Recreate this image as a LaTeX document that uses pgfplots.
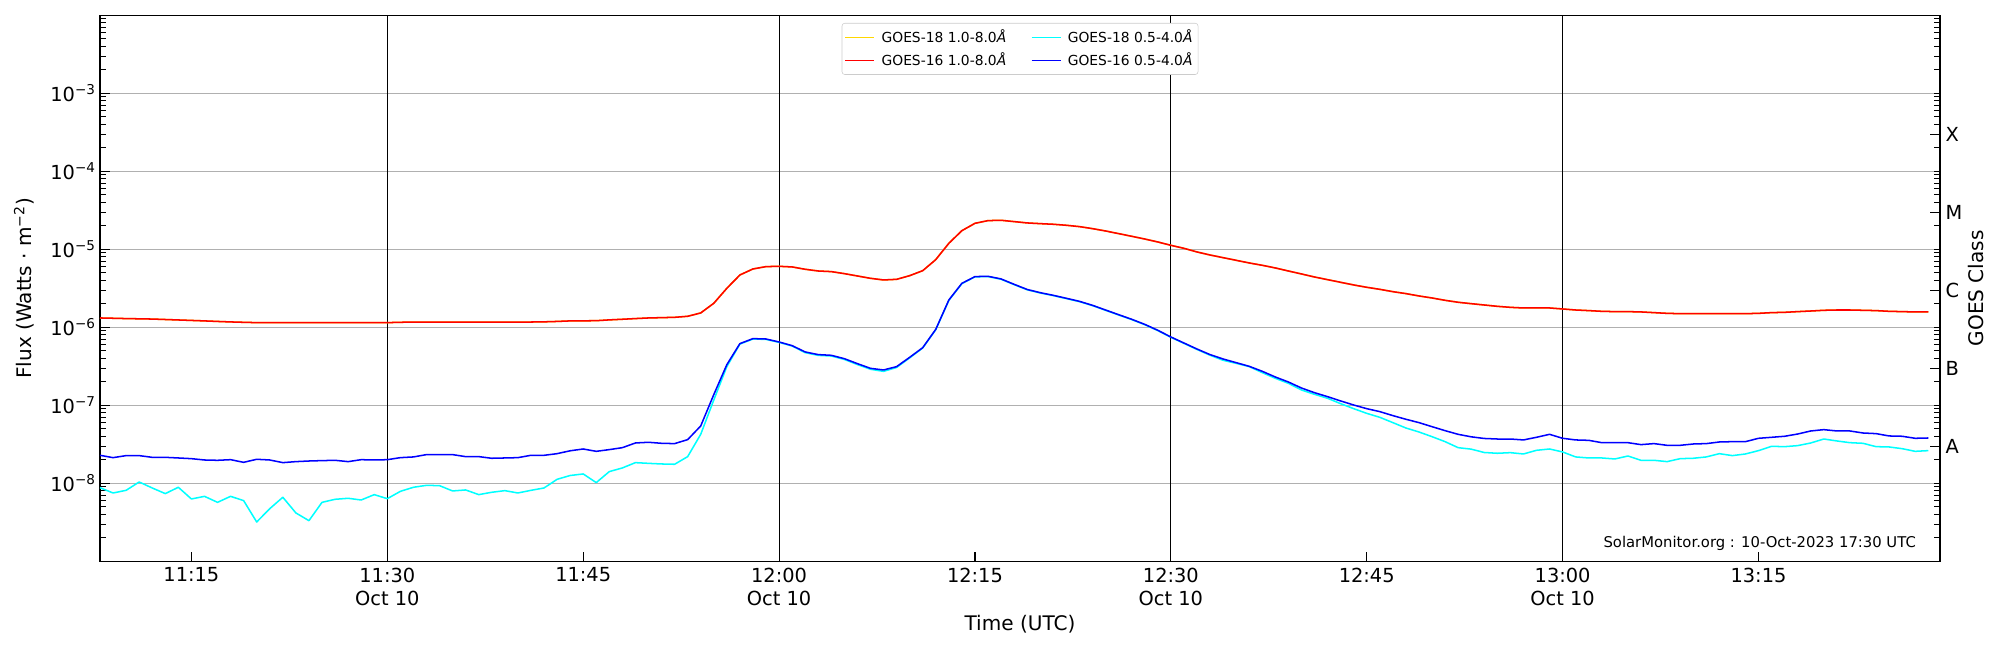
\documentclass[border=0pt]{standalone}
\usepackage{fontspec}
\setmainfont{DejaVu Sans}
\usepackage{pgfplots}
\usepackage{pgfplotstable}
\pgfplotsset{compat=1.18}
\definecolor{g18long}{HTML}{FFD700}
\definecolor{g16long}{HTML}{FF0000}
\definecolor{g18short}{HTML}{00FFFF}
\definecolor{g16short}{HTML}{0000FF}
\newcommand{\ticksize}{\fontsize{14}{16.6}\selectfont}
\newcommand{\labelsize}{\fontsize{14.5}{17}\selectfont}
\newcommand{\sx}[1]{10\textsuperscript{−#1}}

% GOES-16 1.0-8.0 A (minutes after 11:00 UT, W m^-2)
\pgfplotstableread[row sep=\\]{
m f \\
8 1.318e-6 \\ 9 1.306e-6 \\ 10 1.294e-6 \\ 11 1.285e-6 \\ 12 1.276e-6 \\ 13 1.259e-6 \\
14 1.242e-6 \\ 15 1.225e-6 \\ 16 1.208e-6 \\ 17 1.189e-6 \\ 18 1.172e-6 \\ 19 1.159e-6 \\
20 1.148e-6 \\ 21 1.148e-6 \\ 22 1.148e-6 \\ 23 1.148e-6 \\ 24 1.148e-6 \\ 25 1.148e-6 \\
26 1.148e-6 \\ 27 1.148e-6 \\ 28 1.148e-6 \\ 29 1.148e-6 \\ 30 1.148e-6 \\ 31 1.159e-6 \\
32 1.169e-6 \\ 33 1.169e-6 \\ 34 1.169e-6 \\ 35 1.169e-6 \\ 36 1.169e-6 \\ 37 1.169e-6 \\
38 1.169e-6 \\ 39 1.169e-6 \\ 40 1.169e-6 \\ 41 1.169e-6 \\ 42 1.175e-6 \\ 43 1.189e-6 \\
44 1.208e-6 \\ 45 1.211e-6 \\ 46 1.216e-6 \\ 47 1.245e-6 \\ 48 1.268e-6 \\ 49 1.294e-6 \\
50 1.318e-6 \\ 51 1.330e-6 \\ 52 1.343e-6 \\ 53 1.384e-6 \\ 54 1.528e-6 \\ 55 2.032e-6 \\
56 3.162e-6 \\ 57 4.688e-6 \\ 58 5.598e-6 \\ 59 5.998e-6 \\ 60 6.053e-6 \\ 61 5.943e-6 \\
62 5.546e-6 \\ 63 5.272e-6 \\ 64 5.176e-6 \\ 65 4.875e-6 \\ 66 4.550e-6 \\ 67 4.246e-6 \\
68 4.046e-6 \\ 69 4.121e-6 \\ 70 4.592e-6 \\ 71 5.321e-6 \\ 72 7.379e-6 \\ 73 1.194e-5 \\
74 1.734e-5 \\ 75 2.153e-5 \\ 76 2.333e-5 \\ 77 2.355e-5 \\ 78 2.265e-5 \\ 79 2.178e-5 \\
80 2.133e-5 \\ 81 2.094e-5 \\ 82 2.032e-5 \\ 83 1.954e-5 \\ 84 1.841e-5 \\ 85 1.718e-5 \\
86 1.589e-5 \\ 87 1.469e-5 \\ 88 1.355e-5 \\ 89 1.242e-5 \\ 90 1.125e-5 \\ 91 1.030e-5 \\
92 9.247e-6 \\ 93 8.453e-6 \\ 94 7.816e-6 \\ 95 7.228e-6 \\ 96 6.683e-6 \\ 97 6.237e-6 \\
98 5.768e-6 \\ 99 5.272e-6 \\ 100 4.831e-6 \\ 101 4.416e-6 \\ 102 4.083e-6 \\ 103 3.776e-6 \\
104 3.491e-6 \\ 105 3.258e-6 \\ 106 3.069e-6 \\ 107 2.864e-6 \\ 108 2.704e-6 \\ 109 2.523e-6 \\
110 2.377e-6 \\ 111 2.218e-6 \\ 112 2.094e-6 \\ 113 2.009e-6 \\ 114 1.932e-6 \\ 115 1.858e-6 \\
116 1.803e-6 \\ 117 1.770e-6 \\ 118 1.770e-6 \\ 119 1.770e-6 \\ 120 1.718e-6 \\ 121 1.667e-6 \\
122 1.637e-6 \\ 123 1.603e-6 \\ 124 1.589e-6 \\ 125 1.589e-6 \\ 126 1.574e-6 \\ 127 1.542e-6 \\
128 1.510e-6 \\ 129 1.496e-6 \\ 130 1.496e-6 \\ 131 1.496e-6 \\ 132 1.496e-6 \\ 133 1.496e-6 \\
134 1.496e-6 \\ 135 1.510e-6 \\ 136 1.542e-6 \\ 137 1.556e-6 \\ 138 1.589e-6 \\ 139 1.618e-6 \\
140 1.652e-6 \\ 141 1.667e-6 \\ 142 1.667e-6 \\ 143 1.652e-6 \\ 144 1.637e-6 \\ 145 1.603e-6 \\
146 1.589e-6 \\ 147 1.574e-6 \\ 148 1.574e-6 \\
}\longtab

% GOES-16 0.5-4.0 A
\pgfplotstableread[row sep=\\]{
m f \\
8 2.286e-8 \\ 9 2.133e-8 \\ 10 2.265e-8 \\ 11 2.265e-8 \\ 12 2.153e-8 \\ 13 2.153e-8 \\
14 2.113e-8 \\ 15 2.070e-8 \\ 16 1.991e-8 \\ 17 1.972e-8 \\ 18 2.009e-8 \\ 19 1.858e-8 \\
20 2.032e-8 \\ 21 1.991e-8 \\ 22 1.841e-8 \\ 23 1.897e-8 \\ 24 1.932e-8 \\ 25 1.954e-8 \\
26 1.972e-8 \\ 27 1.897e-8 \\ 28 2.009e-8 \\ 29 1.991e-8 \\ 30 2.009e-8 \\ 31 2.133e-8 \\
32 2.178e-8 \\ 33 2.333e-8 \\ 34 2.333e-8 \\ 35 2.333e-8 \\ 36 2.198e-8 \\ 37 2.198e-8 \\
38 2.094e-8 \\ 39 2.113e-8 \\ 40 2.133e-8 \\ 41 2.286e-8 \\ 42 2.286e-8 \\ 43 2.399e-8 \\
44 2.612e-8 \\ 45 2.754e-8 \\ 46 2.570e-8 \\ 47 2.704e-8 \\ 48 2.864e-8 \\ 49 3.289e-8 \\
50 3.357e-8 \\ 51 3.258e-8 \\ 52 3.228e-8 \\ 53 3.631e-8 \\ 54 5.433e-8 \\ 55 1.371e-7 \\
56 3.319e-7 \\ 57 6.180e-7 \\ 58 7.161e-7 \\ 59 7.079e-7 \\ 60 6.486e-7 \\ 61 5.821e-7 \\
62 4.831e-7 \\ 63 4.467e-7 \\ 64 4.375e-7 \\ 65 3.963e-7 \\ 66 3.420e-7 \\ 67 2.979e-7 \\
68 2.838e-7 \\ 69 3.133e-7 \\ 70 4.121e-7 \\ 71 5.483e-7 \\ 72 9.419e-7 \\ 73 2.239e-6 \\
74 3.664e-6 \\ 75 4.467e-6 \\ 76 4.508e-6 \\ 77 4.169e-6 \\ 78 3.556e-6 \\ 79 3.055e-6 \\
80 2.780e-6 \\ 81 2.570e-6 \\ 82 2.355e-6 \\ 83 2.153e-6 \\ 84 1.914e-6 \\ 85 1.667e-6 \\
86 1.452e-6 \\ 87 1.268e-6 \\ 88 1.091e-6 \\ 89 9.162e-7 \\ 90 7.516e-7 \\ 91 6.295e-7 \\
92 5.272e-7 \\ 93 4.467e-7 \\ 94 3.926e-7 \\ 95 3.524e-7 \\ 96 3.162e-7 \\ 97 2.729e-7 \\
98 2.307e-7 \\ 99 1.991e-7 \\ 100 1.667e-7 \\ 101 1.452e-7 \\ 102 1.291e-7 \\ 103 1.138e-7 \\
104 1.009e-7 \\ 105 9.057e-8 \\ 106 8.299e-8 \\ 107 7.379e-8 \\ 108 6.622e-8 \\ 109 5.998e-8 \\
110 5.321e-8 \\ 111 4.732e-8 \\ 112 4.246e-8 \\ 113 3.945e-8 \\ 114 3.758e-8 \\ 115 3.698e-8 \\
116 3.698e-8 \\ 117 3.597e-8 \\ 118 3.890e-8 \\ 119 4.246e-8 \\ 120 3.776e-8 \\ 121 3.597e-8 \\
122 3.556e-8 \\ 123 3.319e-8 \\ 124 3.319e-8 \\ 125 3.319e-8 \\ 126 3.133e-8 \\ 127 3.228e-8 \\
128 3.069e-8 \\ 129 3.069e-8 \\ 130 3.192e-8 \\ 131 3.228e-8 \\ 132 3.388e-8 \\ 133 3.420e-8 \\
134 3.420e-8 \\ 135 3.776e-8 \\ 136 3.890e-8 \\ 137 4.009e-8 \\ 138 4.285e-8 \\ 139 4.688e-8 \\
140 4.875e-8 \\ 141 4.688e-8 \\ 142 4.688e-8 \\ 143 4.416e-8 \\ 144 4.335e-8 \\ 145 4.046e-8 \\
146 4.009e-8 \\ 147 3.776e-8 \\ 148 3.811e-8 \\
}\bluetab

% GOES-18 0.5-4.0 A
\pgfplotstableread[row sep=\\]{
m f \\
8 8.790e-9 \\ 9 7.516e-9 \\ 10 8.128e-9 \\ 11 1.040e-8 \\ 12 8.710e-9 \\ 13 7.379e-9 \\
14 8.892e-9 \\ 15 6.295e-9 \\ 16 6.808e-9 \\ 17 5.702e-9 \\ 18 6.808e-9 \\ 19 5.998e-9 \\
20 3.192e-9 \\ 21 4.732e-9 \\ 22 6.622e-9 \\ 23 4.169e-9 \\ 24 3.319e-9 \\ 25 5.702e-9 \\
26 6.237e-9 \\ 27 6.427e-9 \\ 28 6.109e-9 \\ 29 7.161e-9 \\ 30 6.353e-9 \\ 31 7.889e-9 \\
32 8.892e-9 \\ 33 9.419e-9 \\ 34 9.333e-9 \\ 35 7.980e-9 \\ 36 8.222e-9 \\ 37 7.161e-9 \\
38 7.674e-9 \\ 39 8.054e-9 \\ 40 7.516e-9 \\ 41 8.128e-9 \\ 42 8.710e-9 \\ 43 1.125e-8 \\
44 1.259e-8 \\ 45 1.318e-8 \\ 46 1.021e-8 \\ 47 1.413e-8 \\ 48 1.574e-8 \\ 49 1.841e-8 \\
50 1.803e-8 \\ 51 1.770e-8 \\ 52 1.754e-8 \\ 53 2.198e-8 \\ 54 4.246e-8 \\ 55 1.169e-7 \\
56 3.133e-7 \\ 57 6.095e-7 \\ 58 7.079e-7 \\ 59 6.998e-7 \\ 60 6.412e-7 \\ 61 5.754e-7 \\
62 4.732e-7 \\ 63 4.365e-7 \\ 64 4.285e-7 \\ 65 3.873e-7 \\ 66 3.327e-7 \\ 67 2.897e-7 \\
68 2.723e-7 \\ 69 3.055e-7 \\ 70 4.055e-7 \\ 71 5.433e-7 \\ 72 9.333e-7 \\ 73 2.213e-6 \\
74 3.631e-6 \\ 75 4.436e-6 \\ 76 4.467e-6 \\ 77 4.130e-6 \\ 78 3.524e-6 \\ 79 3.027e-6 \\
80 2.754e-6 \\ 81 2.547e-6 \\ 82 2.333e-6 \\ 83 2.133e-6 \\ 84 1.897e-6 \\ 85 1.652e-6 \\
86 1.439e-6 \\ 87 1.256e-6 \\ 88 1.081e-6 \\ 89 9.078e-7 \\ 90 7.447e-7 \\ 91 6.223e-7 \\
92 5.200e-7 \\ 93 4.385e-7 \\ 94 3.776e-7 \\ 95 3.451e-7 \\ 96 3.133e-7 \\ 97 2.624e-7 \\
98 2.218e-7 \\ 99 1.914e-7 \\ 100 1.574e-7 \\ 101 1.384e-7 \\ 102 1.230e-7 \\ 103 1.050e-7 \\
104 9.057e-8 \\ 105 7.889e-8 \\ 106 7.015e-8 \\ 107 5.998e-8 \\ 108 5.117e-8 \\ 109 4.550e-8 \\
110 3.963e-8 \\ 111 3.420e-8 \\ 112 2.864e-8 \\ 113 2.742e-8 \\ 114 2.483e-8 \\ 115 2.427e-8 \\
116 2.472e-8 \\ 117 2.377e-8 \\ 118 2.649e-8 \\ 119 2.754e-8 \\ 120 2.523e-8 \\ 121 2.178e-8 \\
122 2.113e-8 \\ 123 2.113e-8 \\ 124 2.051e-8 \\ 125 2.239e-8 \\ 126 1.972e-8 \\ 127 1.972e-8 \\
128 1.897e-8 \\ 129 2.070e-8 \\ 130 2.094e-8 \\ 131 2.178e-8 \\ 132 2.399e-8 \\ 133 2.265e-8 \\
134 2.377e-8 \\ 135 2.624e-8 \\ 136 2.979e-8 \\ 137 2.951e-8 \\ 138 3.041e-8 \\ 139 3.289e-8 \\
140 3.698e-8 \\ 141 3.491e-8 \\ 142 3.319e-8 \\ 143 3.258e-8 \\ 144 2.951e-8 \\ 145 2.924e-8 \\
146 2.780e-8 \\ 147 2.570e-8 \\ 148 2.624e-8 \\
}\cyantab

\begin{document}
\begin{tikzpicture}
\begin{axis}[
  name=ax, at={(0,0)}, anchor=south west,
  scale only axis, width=18.4in, height=5.46in,
  xmin=8, xmax=148.9,
  ymode=log, ymin=1e-9, ymax=1e-2,
  axis line style={line width=0.8pt},
  tick pos=left, tick align=inside,
  every tick/.style={black, line width=0.8pt},
  major tick length=7pt, minor tick length=4.5pt,
  xtick={15,30,45,60,75,90,105,120,135},
  xticklabels={11:15,{11:30\\Oct 10},11:45,{12:00\\Oct 10},12:15,{12:30\\Oct 10},12:45,{13:00\\Oct 10},13:15},
  xticklabel style={align=center, font=\ticksize, anchor=north, inner ysep=4.5pt},
  ytick={1e-8,1e-7,1e-6,1e-5,1e-4,1e-3},
  yticklabels={\sx{8},\sx{7},\sx{6},\sx{5},\sx{4},\sx{3}},
  minor ytick={2e-9,3e-9,4e-9,5e-9,6e-9,7e-9,8e-9,9e-9,
    2e-8,3e-8,4e-8,5e-8,6e-8,7e-8,8e-8,9e-8,
    2e-7,3e-7,4e-7,5e-7,6e-7,7e-7,8e-7,9e-7,
    2e-6,3e-6,4e-6,5e-6,6e-6,7e-6,8e-6,9e-6,
    2e-5,3e-5,4e-5,5e-5,6e-5,7e-5,8e-5,9e-5,
    2e-4,3e-4,4e-4,5e-4,6e-4,7e-4,8e-4,9e-4,
    2e-3,3e-3,4e-3,5e-3,6e-3,7e-3,8e-3,9e-3},
  yticklabel style={font=\ticksize, anchor=base east, yshift=-6pt, inner xsep=2.9pt},
  ymajorgrids,
  major grid style={color=black!31, line width=0.8pt},
  extra x ticks={30,60,90,120},
  extra x tick labels={},
  extra x tick style={grid=major, major grid style={black, line width=0.8pt}, major tick length=0pt},
  xlabel={Time (UTC)},
  ylabel={Flux (Watts · m\textsuperscript{−2})},
  every axis x label/.style={at={(axis description cs:0.5,-0.1148)}, anchor=center, font=\labelsize},
  every axis y label/.style={at={(axis description cs:-0.0413,0.5)}, rotate=90, anchor=center, font=\labelsize},
  legend style={at={(0.5,0.986)}, anchor=north, draw=black!20, rounded corners=2pt,
    fill=white, font=\fontsize{10}{12}\selectfont, legend columns=2,
    inner xsep=2pt, inner ysep=3pt, row sep=1.5pt,
    /tikz/every odd column/.append style={column sep=0.04in},
    /tikz/every even column/.append style={column sep=0.22in}},
  transpose legend,
  legend cell align=left,
  legend image code/.code={\draw[#1, line width=0.8pt] (0in,0in) -- (0.29in,0in);},
  every axis plot/.append style={line width=1.1pt},
]
\addplot[color=g18long, line join=round] table[x=m, y=f] {\longtab};
\addlegendentry{GOES-18 1.0-8.0\textit{Å}}
\addplot[color=g16long, line join=round] table[x=m, y=f] {\longtab};
\addlegendentry{GOES-16 1.0-8.0\textit{Å}}
\addplot[color=g18short, line join=round] table[x=m, y=f] {\cyantab};
\addlegendentry{GOES-18 0.5-4.0\textit{Å}}
\addplot[color=g16short, line join=round] table[x=m, y=f] {\bluetab};
\addlegendentry{GOES-16 0.5-4.0\textit{Å}}
\node[anchor=east, inner sep=0pt, font=\fontsize{10.7}{12}\selectfont] at (rel axis cs:0.987,0.033) {SolarMonitor.org : 10-Oct-2023 17:30 UTC};
\end{axis}
\begin{axis}[
  at={(0,0)}, anchor=south west,
  scale only axis, width=18.4in, height=5.46in,
  xmin=8, xmax=148.9,
  ymode=log, ymin=1e-9, ymax=1e-2,
  axis x line=none, axis y line*=right,
  axis line style={line width=0.8pt, -},
  tick align=inside,
  every tick/.style={black, line width=0.8pt},
  major tick length=7pt, minor tick length=4.5pt,
  ytick={3e-8,3e-7,3e-6,3e-5,3e-4},
  yticklabels={A,B,C,M,X},
  minor ytick={2e-9,3e-9,4e-9,5e-9,6e-9,7e-9,8e-9,9e-9,
    1e-8,2e-8,4e-8,5e-8,6e-8,7e-8,8e-8,9e-8,
    1e-7,2e-7,4e-7,5e-7,6e-7,7e-7,8e-7,9e-7,
    1e-6,2e-6,4e-6,5e-6,6e-6,7e-6,8e-6,9e-6,
    1e-5,2e-5,4e-5,5e-5,6e-5,7e-5,8e-5,9e-5,
    1e-4,2e-4,4e-4,5e-4,6e-4,7e-4,8e-4,9e-4,
    1e-3,2e-3,3e-3,4e-3,5e-3,6e-3,7e-3,8e-3,9e-3},
  yticklabel style={font=\ticksize, anchor=west, inner xsep=3.9pt},
  ylabel={GOES Class},
  every axis y label/.style={at={(axis description cs:1.0198,0.5)}, rotate=90, anchor=center, font=\labelsize},
]
\end{axis}
\pgfresetboundingbox
\path[use as bounding box] (-1in,-0.887in) rectangle (19.0in,5.613in);
\end{tikzpicture}
\end{document}
